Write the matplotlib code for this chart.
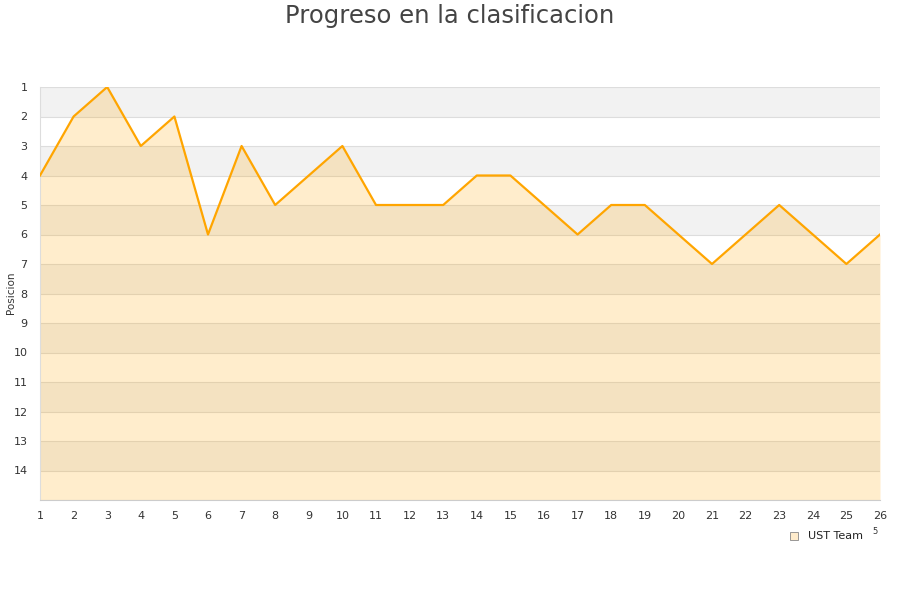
import matplotlib
matplotlib.use("Agg")
import matplotlib.pyplot as plt

# jornadas y posicion del equipo
jornadas = list(range(1, 27))
posicion = [4, 2, 1, 3, 2, 6, 3, 5, 4, 3, 5, 5, 5, 4, 4, 5, 6, 5, 5, 6, 7, 6, 5, 6, 7, 6]
y_ticks = list(range(1, 15))
equipo = "UST Team"
titulo = "Progreso en la clasificacion"

fig = plt.figure(figsize=(9, 6), dpi=100)
ax = fig.add_axes([40 / 900, 100 / 600, 840 / 900, 413 / 600])

# bandas alternas de fondo
for i in range(1, 15, 2):
    ax.axhspan(i, i + 1, color="#f2f2f2", zorder=0, lw=0)
for i in range(1, 16):
    ax.axhline(i, color="#dddddd", lw=0.8, zorder=1)

ax.fill_between(jornadas, posicion, 15, color="#ffa500", alpha=0.2, lw=0, zorder=2)
ax.plot(jornadas, posicion, color="#ffa500", lw=1.6, zorder=3)

ax.set_xlim(1, 26)
ax.set_ylim(15, 1)
ax.set_xticks(jornadas)
ax.set_yticks(y_ticks)
ax.tick_params(axis="both", length=0, labelsize=8, colors="#333333")
ax.tick_params(axis="y", pad=9)
ax.tick_params(axis="x", pad=8)

for side in ["top", "right"]:
    ax.spines[side].set_visible(False)
ax.spines["left"].set_color("#dddddd")
ax.spines["bottom"].set_color("#cccccc")

fig.text(11 / 900, 1 - 293 / 600, "Posicion", fontsize=7.5, color="#333333",
         rotation=90, ha="center", va="center")
fig.text(0.5, 1 - 16 / 600, titulo, ha="center", va="center", fontsize=17.5, color="#444444")

fig.patches.append(plt.Rectangle((790 / 900, 1 - 540 / 600), 8 / 900, 8 / 600,
                                 transform=fig.transFigure, facecolor="#ffeccc",
                                 edgecolor="#888888", lw=0.6))
fig.text(808 / 900, 1 - 536 / 600, equipo, fontsize=8, color="#222222", va="center")
fig.text(875 / 900, 1 - 531 / 600, "5", fontsize=6, color="#333333", ha="center", va="center")

fig.savefig("out.png", dpi=100)
